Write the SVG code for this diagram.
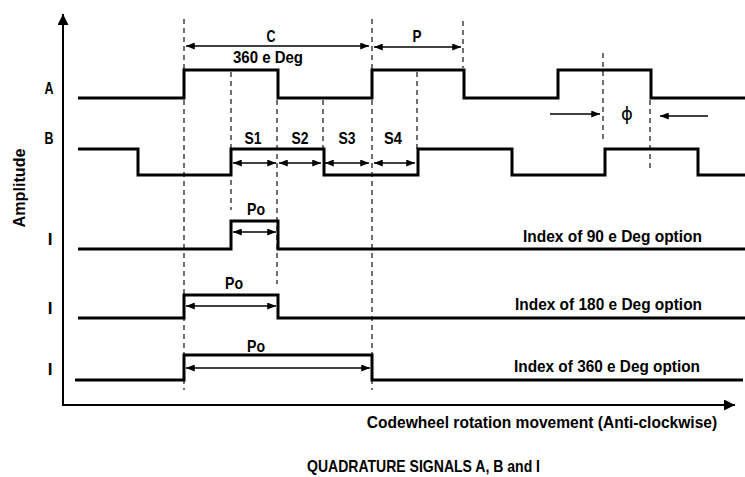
<svg xmlns="http://www.w3.org/2000/svg" width="745" height="477" viewBox="0 0 745 477">
<style>
.sig{fill:none;stroke:#000;stroke-width:3;stroke-linejoin:miter;stroke-linecap:butt}
.dash{fill:none;stroke:#222;stroke-width:1.3;stroke-dasharray:5 4}
.arr{fill:none;stroke:#000;stroke-width:1.3;marker-start:url(#ah);marker-end:url(#ah)}
.arr1{fill:none;stroke:#000;stroke-width:1.3;marker-end:url(#ah)}
.axis{fill:none;stroke:#000;stroke-width:2}
text{font-family:"Liberation Sans",Arial,sans-serif;font-weight:bold;font-size:17px;fill:#000}
.mid{text-anchor:middle}
.phi{font-family:"DejaVu Sans",sans-serif;font-weight:normal;font-size:18px}
</style>
<defs>
<marker id="ah" viewBox="0 0 10 8" refX="10" refY="4" markerWidth="9" markerHeight="7" markerUnits="userSpaceOnUse" orient="auto-start-reverse">
<path d="M0,0 L10,4 L0,8 Z" fill="#000"/>
</marker>
<marker id="axh" viewBox="0 0 10 10" refX="10" refY="5" markerWidth="11" markerHeight="11" markerUnits="userSpaceOnUse" orient="auto">
<path d="M0,0 L10,5 L0,10 Z" fill="#000"/>
</marker>
</defs>
<rect width="745" height="477" fill="#fff"/>

<g id="axes">
<path class="axis" d="M63,406 V14" marker-end="url(#axh)"/>
<path class="axis" d="M62,405 H735" marker-end="url(#axh)"/>
</g>

<g id="guides">
<path class="dash" d="M184,19 V390"/>
<path class="dash" d="M231,72 V210"/>
<path class="dash" d="M277,100 V284"/>
<path class="dash" d="M323,100 V149"/>
<path class="dash" d="M372,19 V390"/>
<path class="dash" d="M417,72 V149"/>
<path class="dash" d="M463,21 V68"/>
<path class="dash" d="M603,53 V142"/>
<path class="dash" d="M650,100 V172"/>
</g>

<g id="signal-A"><path class="sig" d="M78,98 H184 V70 H278 V98 H372 V70 H464 V98 H558 V70 H651 V98 H745"/></g>
<g id="signal-B"><path class="sig" d="M78,149 H138 V175 H231 V149 H324 V175 H418 V149 H512 V175 H605 V149 H698 V175 H745"/></g>
<g id="signal-I90"><path class="sig" d="M78,249 H231 V221 H278 V249 H745"/></g>
<g id="signal-I180"><path class="sig" d="M78,318 H184 V295 H278 V318 H745"/></g>
<g id="signal-I360"><path class="sig" d="M75,380 H184 V355 H372 V380 H743"/></g>

<g id="connectors">
<path class="arr" d="M186,46 H369"/>
<path class="arr" d="M374,47 H461"/>
<path class="arr" d="M233,163 H276"/>
<path class="arr" d="M279,163 H321"/>
<path class="arr" d="M325,163 H369"/>
<path class="arr" d="M374,163 H415"/>
<path class="arr" d="M233,232 H276"/>
<path class="arr" d="M186,306 H276"/>
<path class="arr" d="M186,368 H370"/>
<path class="arr1" d="M550,114 H600"/>
<path class="arr1" d="M708,116 H660"/>
</g>

<g id="labels">
<text x="49" y="94" class="mid" textLength="9" lengthAdjust="spacingAndGlyphs">A</text>
<text x="49" y="144" class="mid" textLength="9" lengthAdjust="spacingAndGlyphs">B</text>
<text x="50" y="245" class="mid">I</text>
<text x="50" y="314" class="mid">I</text>
<text x="50" y="375" class="mid">I</text>
<text transform="translate(25,188) rotate(-90)" class="mid" textLength="79" lengthAdjust="spacingAndGlyphs">Amplitude</text>
<text x="271" y="42" class="mid" textLength="9" lengthAdjust="spacingAndGlyphs">C</text>
<text x="268" y="63" class="mid" textLength="70" lengthAdjust="spacingAndGlyphs">360 e Deg</text>
<text x="417" y="42" class="mid" textLength="9" lengthAdjust="spacingAndGlyphs">P</text>
<text x="253" y="144" class="mid" textLength="17" lengthAdjust="spacingAndGlyphs">S1</text>
<text x="300" y="144" class="mid" textLength="17" lengthAdjust="spacingAndGlyphs">S2</text>
<text x="347" y="144" class="mid" textLength="17" lengthAdjust="spacingAndGlyphs">S3</text>
<text x="393" y="144" class="mid" textLength="18" lengthAdjust="spacingAndGlyphs">S4</text>
<text x="256" y="215" class="mid" textLength="18" lengthAdjust="spacingAndGlyphs">Po</text>
<text x="234" y="289" class="mid" textLength="18" lengthAdjust="spacingAndGlyphs">Po</text>
<text x="256" y="352" class="mid" textLength="18" lengthAdjust="spacingAndGlyphs">Po</text>
<text x="627" y="120" class="mid phi">ϕ</text>
<text x="523" y="242" textLength="179" lengthAdjust="spacingAndGlyphs">Index of 90 e Deg option</text>
<text x="515" y="310" textLength="187" lengthAdjust="spacingAndGlyphs">Index of 180 e Deg option</text>
<text x="514" y="372" textLength="186" lengthAdjust="spacingAndGlyphs">Index of 360 e Deg option</text>
<text transform="translate(542,428) scale(0.916,1)" class="mid">Codewheel rotation movement (Anti-clockwise)</text>
<text x="307" y="472" textLength="233" lengthAdjust="spacingAndGlyphs">QUADRATURE SIGNALS A, B and I</text>
</g>
</svg>
